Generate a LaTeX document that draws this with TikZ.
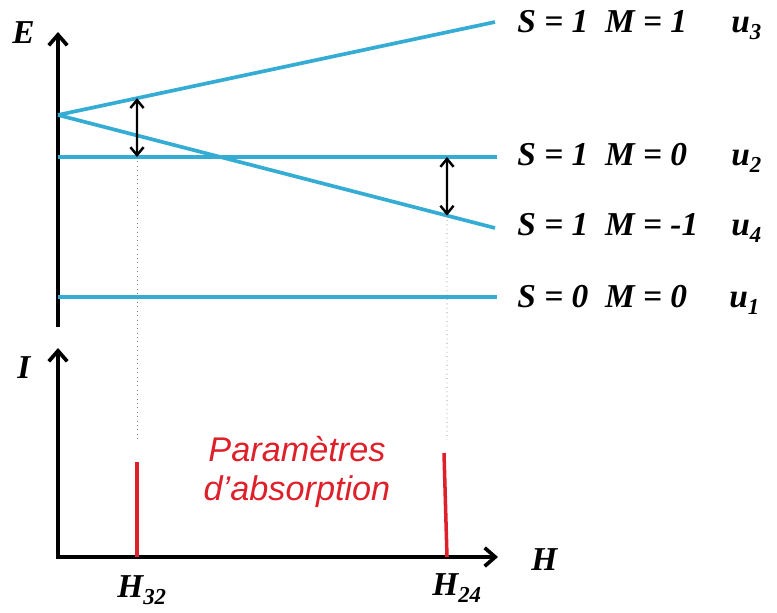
\documentclass[tikz,border=0pt]{standalone}
\usepackage{fontspec}
\setmainfont{Liberation Serif}
\setsansfont{Liberation Sans}
\usetikzlibrary{positioning, arrows.meta, calc}
\definecolor{levelc}{RGB}{52,172,212}
\definecolor{peakc}{RGB}{222,32,42}
\definecolor{guidec}{gray}{0.50}
\newcommand{\labfont}{\fontsize{19}{22}\selectfont\bfseries\itshape}
\newcommand{\lowr}[1]{\raisebox{-.5ex}{\fontsize{13}{14}\selectfont #1}}

\begin{document}
\begin{tikzpicture}[x=0.02cm, y=-0.02cm,
  level/.style={draw=levelc, line width=2.1pt},
  axis/.style={draw=black, line width=2.1pt, line join=miter},
  tip/.tip={Straight Barb[length=6pt,width=10.5pt]},
  gap/.style={draw=black, line width=1.4pt,
    {Straight Barb[length=4.5pt,width=7.5pt]}-{Straight Barb[length=4.5pt,width=7.5pt]}},
  guide/.style={draw=guidec, line width=.5pt, dotted},
  peak/.style={draw=peakc, line width=2pt},
  lab/.style={anchor=base west, inner sep=0pt, font=\labfont},
]
\useasboundingbox (0,0) rectangle (777,612);

% energy axis and the four levels (1 unit = 1 px of the reference)
\coordinate (Ebot) at (58,327);
\coordinate (Etop) at (58,32);
\coordinate (o) at (58,115);
\coordinate (u3e) at (495,22);
\coordinate (u4e) at (495,228);
\coordinate (u2s) at (58,157);
\coordinate (u2e) at (497,157);
\coordinate (u1s) at (58,297);
\coordinate (u1e) at (497,297);

\draw[axis, -tip] (Ebot) -- (Etop);
\node[lab] (Elab) at (12,43) {E};

\draw[level] (o) -- (u3e);
\draw[level] (o) -- (u4e);
\draw[level] (u2s) -- (u2e);
\draw[level] (u1s) -- (u1e);

\node[lab] (l3) at (517,32) {S = 1\ \ M = 1};
\node[lab] (l2) at (517,165) {S = 1\ \ M = 0};
\node[lab] (l4) at (517,235) {S = 1\ \ M = -1};
\node[lab] (l1) at (517,307) {S = 0\ \ M = 0};
\node[lab] (n3) at (731,32) {u\lowr{3}};
\node[lab] (n2) at (731,165) {u\lowr{2}};
\node[lab] (n4) at (731,235) {u\lowr{4}};
\node[lab] (n1) at (729,307) {u\lowr{1}};

% the two transitions, and where they land on the field axis
\coordinate (a1) at ($(o)!{79/437}!(u3e)$);
\coordinate (b1) at (137,157);
\coordinate (a2) at (447,157);
\coordinate (b2) at ($(o)!{389/437}!(u4e)$);
\draw[gap] (a1) -- (b1);
\draw[gap] (a2) -- (b2);

\coordinate (g1) at (137,440);
\coordinate (g2) at (447,440);
\draw[guide] (b1) -- (g1);
\draw[guide] (b2) -- (g2);

% absorption spectrum
\coordinate (Itop) at (58,348);
\coordinate (orig) at (58,557);
\coordinate (Hend) at (498,557);
\draw[axis, tip-tip] (Itop) -- (orig) -- (Hend);
\node[lab] (Ilab) at (17,378) {I};
\node[lab] (Hlab) at (531,570) {H};

\coordinate (p1t) at (137,462);
\coordinate (p1b) at (137,557);
\coordinate (p2t) at (444,453);
\coordinate (p2b) at (447,557);
\draw[peak] (p1b) -- (p1t);
\draw[peak] (p2b) -- (p2t);

\node[lab] (H32) at (117,597) {H\lowr{32}};
\node[lab] (H24) at (432,595) {H\lowr{24}};

\node[align=center, text=peakc, inner sep=0pt,
  font=\sffamily\itshape\fontsize{19.5}{22}\selectfont] (abs) at (297,472)
  {Paramètres\\d’absorption};
\end{tikzpicture}
\end{document}
